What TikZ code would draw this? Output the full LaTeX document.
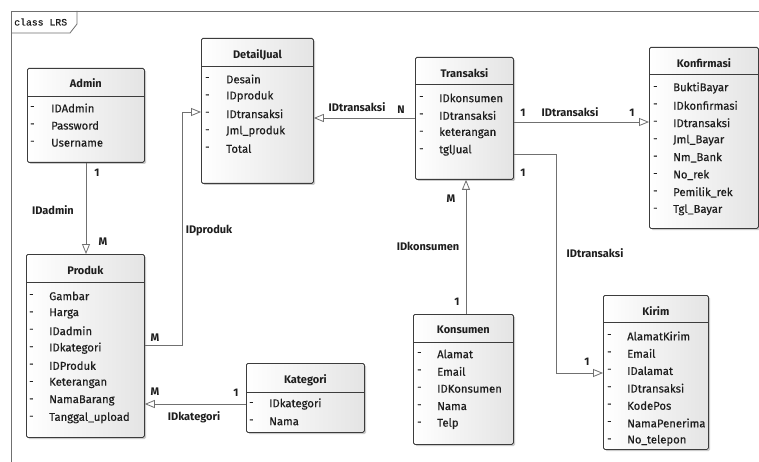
\documentclass[tikz,border=0pt]{standalone}
\usepackage{fontspec}
\setmainfont{Fira Sans}
\setmonofont{Liberation Mono}
\newfontfamily\attrfont{Fira Sans}[FakeBold=0.35]
\usetikzlibrary{arrows.meta,shadows}

\definecolor{boxline}{HTML}{3C3C3C}
\definecolor{wire}{HTML}{707070}
\definecolor{ink}{HTML}{1E1E1E}
\definecolor{shadeR}{HTML}{E4E4E4}

\tikzset{
  cls/.style={draw=boxline, line width=0.8pt, rounded corners=1.5pt, inner sep=0pt,
    anchor=north west, left color=white, right color=shadeR,
    drop shadow={shadow xshift=1.6pt, shadow yshift=-1.6pt, fill=black!45, opacity=0.45}},
  sepline/.style={draw=boxline, line width=0.7pt},
  ttl/.style={font=\fontsize{11}{13}\selectfont\bfseries, text=ink, inner sep=0pt},
  attr/.style={font=\attrfont\fontsize{11.3}{13}\selectfont, text=ink, anchor=west, inner sep=0pt},
  dashtxt/.style={font=\attrfont\fontsize{11}{13}\selectfont, text=ink, anchor=west, inner sep=0pt},
  lbl/.style={font=\fontsize{11}{13}\selectfont\bfseries, text=ink, inner sep=0pt},
  assoc/.style={draw=wire, line width=0.8pt,
    -{Triangle[length=10pt, width=8pt, fill=white]}},
  framel/.style={draw=wire, line width=0.8pt},
}

% attribute rows: name, dash x, text x, first row y, list
\newcommand\attrrows[5]{%
  \foreach \t [count=\i from 0] in {#5} {
    \node[dashtxt] (#1-d\i) at (#2, {#4+\i*17.4}) {-};
    \node[attr] (#1-a\i) at (#3, {#4+\i*17.4}) {\t};
  }}

\begin{document}
\begin{tikzpicture}[x=1pt, y=-1pt]
\useasboundingbox (0,0) rectangle (759,462);
\fill[white] (0,0) rectangle (759,462);

% diagram frame and its tab
\draw[framel] (11,462) -- (11,11) -- (759,11);
\draw[framel] (11,33) -- (70,33) -- (77,24) -- (77,11);
\node[font=\ttfamily\fontsize{9.8}{11}\selectfont\addfontfeature{FakeBold=0.3}, text=ink, anchor=west, inner sep=0pt] (frametab) at (14,22) {class LRS};

% ---------- classes ----------
% Admin
\node[cls, minimum width=117pt, minimum height=94pt] (admin) at (27,68) {};
\draw[sepline] (admin.west |- 0,96) -- (admin.east |- 0,96);
\node[ttl] (admin-t) at (admin.center |- 0,83) {Admin};
\attrrows{admin}{30}{51}{108}{IDAdmin,Password,Username}

% DetailJual
\node[cls, minimum width=112pt, minimum height=145pt] (detail) at (201,38) {};
\draw[sepline] (detail.west |- 0,66) -- (detail.east |- 0,66);
\node[ttl] (detail-t) at (detail.center |- 0,55) {DetailJual};
\attrrows{detail}{205}{226}{79}{Desain,IDproduk,IDtransaksi,Jml\_produk,Total}

% Transaksi
\node[cls, minimum width=98pt, minimum height=122pt] (transaksi) at (415,57) {};
\draw[sepline] (transaksi.west |- 0,84) -- (transaksi.east |- 0,84);
\node[ttl] (transaksi-t) at (transaksi.center |- 0,73) {Transaksi};
\attrrows{transaksi}{419}{439}{98}{IDkonsumen,IDtransaksi,keterangan,tglJual}

% Konfirmasi
\node[cls, minimum width=109pt, minimum height=181pt] (konfirmasi) at (649,47) {};
\draw[sepline] (konfirmasi.west |- 0,74) -- (konfirmasi.east |- 0,74);
\node[ttl] (konfirmasi-t) at (konfirmasi.center |- 0,63) {Konfirmasi};
\attrrows{konfirmasi}{653}{673}{88}{BuktiBayar,IDkonfirmasi,IDtransaksi,Jml\_Bayar,Nm\_Bank,No\_rek,Pemilik\_rek,Tgl\_Bayar}

% Produk
\node[cls, minimum width=118pt, minimum height=183pt] (produk) at (26,254) {};
\draw[sepline] (produk.west |- 0,282) -- (produk.east |- 0,282);
\node[ttl] (produk-t) at (produk.center |- 0,270) {Produk};
\attrrows{produk}{29}{49}{296}{Gambar,Harga,IDadmin,IDkategori,IDProduk,Keterangan,NamaBarang,Tanggal\_upload}

% Kategori
\node[cls, minimum width=118pt, minimum height=69pt] (kategori) at (246,363) {};
\draw[sepline] (kategori.west |- 0,392) -- (kategori.east |- 0,392);
\node[ttl] (kategori-t) at (kategori.center |- 0,380) {Kategori};
\attrrows{kategori}{249}{269}{404}{IDkategori,Nama}

% Konsumen
\node[cls, minimum width=100pt, minimum height=130pt] (konsumen) at (413,314) {};
\draw[sepline] (konsumen.west |- 0,342) -- (konsumen.east |- 0,342);
\node[ttl] (konsumen-t) at (konsumen.center |- 0,330) {Konsumen};
\attrrows{konsumen}{417}{437}{354}{Alamat,Email,IDKonsumen,Nama,Telp}

% Kirim
\node[cls, minimum width=105pt, minimum height=154pt] (kirim) at (603,295) {};
\draw[sepline] (kirim.west |- 0,322) -- (kirim.east |- 0,322);
\node[ttl] (kirim-t) at (kirim.center |- 0,311) {Kirim};
\attrrows{kirim}{607}{627}{336}{AlamatKirim,Email,IDalamat,IDtransaksi,KodePos,NamaPenerima,No\_telepon}

% ---------- associations ----------
\coordinate (bendPD) at (182,112);
\coordinate (bendTK) at (556,373);

\draw[assoc] (admin.south -| 86,0) -- (produk.north -| 86,0);
\draw[assoc] (produk.east |- 0,345) -| (bendPD) -- (detail.west |- bendPD);
\draw[assoc] (transaksi.west |- 0,118) -- (detail.east |- 0,118);
\draw[assoc] (transaksi.east |- 0,122) -- (konfirmasi.west |- 0,122);
\draw[assoc] (konsumen.north -| 466,0) -- (transaksi.south -| 466,0);
\draw[assoc] (transaksi.east |- 0,154) -| (bendTK) -- (kirim.west |- bendTK);
\draw[assoc] (kategori.west |- 0,404) -- (produk.east |- 0,404);

% ---------- multiplicities and role names ----------
\node[lbl] (m1a) at (97,173) {1};
\node[lbl] (r1) at (53,210) {IDadmin};
\node[lbl] (m1b) at (103,242) {M};

\node[lbl] (m2a) at (155,338) {M};
\node[lbl] (r2) at (209,231) {IDproduk};

\node[lbl] (r3) at (357,107) {IDtransaksi};
\node[lbl] (m3a) at (401,110) {N};

\node[lbl] (m4a) at (523,113) {1};
\node[lbl] (r4) at (570,112) {IDtransaksi};
\node[lbl] (m4b) at (632,113) {1};

\node[lbl] (m5a) at (451,199) {M};
\node[lbl] (r5) at (428,246) {IDkonsumen};
\node[lbl] (m5b) at (457,302) {1};

\node[lbl] (m6a) at (523,173) {1};
\node[lbl] (r6) at (595,253) {IDtransaksi};
\node[lbl] (m6b) at (587,362) {1};

\node[lbl] (m7a) at (155,392) {M};
\node[lbl] (m7b) at (236,393) {1};
\node[lbl] (r7) at (194,417) {IDkategori};
\end{tikzpicture}
\end{document}
